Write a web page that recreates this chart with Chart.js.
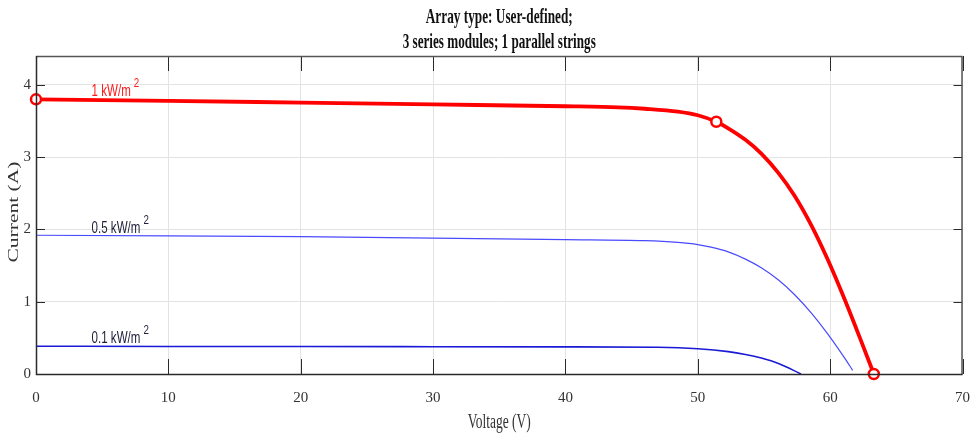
<!DOCTYPE html>
<html>
<head>
<meta charset="utf-8">
<script src="https://cdn.jsdelivr.net/npm/chart.js@4.4.1/dist/chart.umd.min.js"></script>
<style>
  html, body { margin: 0; padding: 0; background: #fff; }
  canvas { display: block; }
</style>
</head>
<body>
<canvas id="ivChart" width="970" height="435"></canvas>
<script>
// ---- data ----
const voltage1 = [0, 10, 20, 30, 40, 44, 46, 48.5, 50, 51.4, 52.3, 53.6, 54.8, 56.1, 57.3, 58.6, 59.8, 61.1, 62.3, 63.3];
const current1 = [3.80, 3.78, 3.755, 3.73, 3.705, 3.69, 3.67, 3.63, 3.58, 3.49, 3.40, 3.24, 3.05, 2.78, 2.47, 2.05, 1.59, 1.03, 0.475, 0.0];

const voltage05 = [0, 10, 20, 30, 40, 46, 48.5, 50, 51, 52.3, 53.6, 54.8, 56.1, 57.3, 58.6, 59.8, 61.1, 61.7];
const current05 = [1.92, 1.91, 1.90, 1.88, 1.86, 1.845, 1.82, 1.79, 1.755, 1.69, 1.59, 1.47, 1.30, 1.10, 0.84, 0.56, 0.22, 0.05];

const voltage01 = [0, 10, 20, 30, 40, 47, 50, 52.3, 53.6, 54.8, 56.1, 57.8];
const current01 = [0.385, 0.38, 0.38, 0.378, 0.375, 0.37, 0.35, 0.31, 0.27, 0.22, 0.145, 0.0];

// Isc, MPP, Voc markers on the 1 kW/m2 curve
const markerV = [0, 51.4, 63.3];
const markerI = [3.80, 3.49, 0];

const titleLines = ['Array type: User-defined;', '3 series modules; 1 parallel strings'];
const xTitle = 'Voltage (V)';
const yTitle = 'Current (A)';

// curve labels: text, superscript, anchor in data units (V, A)
const curveLabels = [
  { text: '1 kW/m', sup: '2', v: 4.2, i: 3.84, color: '#ff1a1a' },
  { text: '0.5 kW/m', sup: '2', v: 4.2, i: 1.95, color: '#1e1e3a' },
  { text: '0.1 kW/m', sup: '2', v: 4.2, i: 0.43, color: '#1e1e3a' }
];

const toPoints = (xs, ys) => xs.map((x, k) => ({ x: x, y: ys[k] }));

// draws text squeezed/stretched to a target width
function drawFitted(ctx, text, x, y, font, width, align) {
  ctx.save();
  ctx.font = font;
  const w = ctx.measureText(text).width;
  ctx.translate(x, y);
  ctx.scale(width / w, 1);
  ctx.textAlign = align || 'center';
  ctx.fillText(text, 0, 0);
  ctx.restore();
}

const frame = {
  id: 'frame',
  afterDraw(chart) {
    const { ctx, chartArea: a, scales: { x, y } } = chart;
    ctx.save();
    // inward ticks, matlab style
    ctx.strokeStyle = '#2a2a2a';
    ctx.lineWidth = 1;
    ctx.beginPath();
    x.ticks.forEach(t => {
      const px = Math.round(x.getPixelForValue(t.value)) + 0.5;
      ctx.moveTo(px, a.bottom); ctx.lineTo(px, a.bottom - 15);
      ctx.moveTo(px, a.top); ctx.lineTo(px, a.top + 15);
    });
    y.ticks.forEach(t => {
      const py = Math.round(y.getPixelForValue(t.value)) + 0.5;
      ctx.moveTo(a.left, py); ctx.lineTo(a.left + 9, py);
      ctx.moveTo(a.right, py); ctx.lineTo(a.right - 9, py);
    });
    ctx.stroke();

    // box
    ctx.lineWidth = 1.5;
    ctx.strokeStyle = '#555';
    ctx.beginPath();
    ctx.moveTo(a.left, a.top + 0.5); ctx.lineTo(a.right, a.top + 0.5);
    ctx.moveTo(a.right - 0.5, a.top); ctx.lineTo(a.right - 0.5, a.bottom);
    ctx.stroke();
    ctx.strokeStyle = '#2a2a2a';
    ctx.beginPath();
    ctx.moveTo(a.left + 0.5, a.top); ctx.lineTo(a.left + 0.5, a.bottom + 0.5);
    ctx.lineTo(a.right, a.bottom + 0.5);
    ctx.stroke();

    // title
    ctx.fillStyle = '#111';
    const cx = (a.left + a.right) / 2;
    drawFitted(ctx, titleLines[0], cx, 23, 'bold 21px "Liberation Serif"', 147);
    drawFitted(ctx, titleLines[1], cx, 48, 'bold 21px "Liberation Serif"', 193);

    // axis titles
    ctx.fillStyle = '#333';
    drawFitted(ctx, xTitle, cx, 428, '20px "Liberation Serif"', 63);
    ctx.save();
    ctx.translate(18, 212);
    ctx.rotate(-Math.PI / 2);
    drawFitted(ctx, yTitle, 0, 0, '14px "Liberation Serif"', 101);
    ctx.restore();

    // curve labels
    curveLabels.forEach(l => {
      const px = x.getPixelForValue(l.v);
      const py = y.getPixelForValue(l.i);
      ctx.fillStyle = l.color;
      ctx.font = '17px "Liberation Sans"';
      const w = ctx.measureText(l.text).width * 0.68;
      drawFitted(ctx, l.text, px, py, '17px "Liberation Sans"', w, 'left');
      ctx.font = '13px "Liberation Sans"';
      const ws = ctx.measureText(l.sup).width * 0.75;
      drawFitted(ctx, l.sup, px + w + 3, py - 9, '13px "Liberation Sans"', ws, 'left');
    });
    ctx.restore();
  }
};

const ctx = document.getElementById('ivChart').getContext('2d');
const ivChart = new Chart(ctx, {
  type: 'line',
  data: {
    datasets: [
      {
        label: 'markers',
        data: toPoints(markerV, markerI),
        showLine: false,
        borderColor: '#ff0000',
        backgroundColor: '#ffffff',
        pointRadius: 5,
        pointBorderWidth: 2.5,
        pointBackgroundColor: '#ffffff',
        clip: false
      },
      {
        label: '1 kW/m2',
        data: toPoints(voltage1, current1),
        borderColor: '#ff0000',
        borderWidth: 3.8,
        pointRadius: 0,
        cubicInterpolationMode: 'monotone'
      },
      {
        label: '0.5 kW/m2',
        data: toPoints(voltage05, current05),
        borderColor: '#4a4aff',
        borderWidth: 1.2,
        pointRadius: 0,
        cubicInterpolationMode: 'monotone'
      },
      {
        label: '0.1 kW/m2',
        data: toPoints(voltage01, current01),
        borderColor: '#1a1ad6',
        borderWidth: 1.6,
        pointRadius: 0,
        cubicInterpolationMode: 'monotone'
      }
    ]
  },
  options: {
    responsive: false,
    animation: false,
    devicePixelRatio: 1,
    layout: { padding: { top: 56, right: 1, left: 0, bottom: 0 } },
    scales: {
      x: {
        type: 'linear',
        min: 0,
        max: 70,
        ticks: {
          stepSize: 10,
          padding: 15,
          color: '#333',
          font: { family: 'Liberation Serif', size: 15 }
        },
        grid: { color: '#e3e3e3', drawTicks: false },
        border: { display: false },
        afterFit(scale) {
          scale.height = 61;
          scale.paddingLeft = 0;
          scale.paddingRight = 0;
        }
      },
      y: {
        min: 0,
        max: 4.4,
        afterBuildTicks(scale) {
          scale.ticks = scale.ticks.filter(t => Number.isInteger(t.value));
        },
        ticks: {
          stepSize: 1,
          padding: 5,
          color: '#333',
          font: { family: 'Liberation Serif', size: 15 }
        },
        grid: { color: '#e3e3e3', drawTicks: false },
        border: { display: false },
        afterFit(scale) {
          scale.width = 36;
          scale.paddingTop = 0;
          scale.paddingBottom = 0;
        }
      }
    },
    plugins: {
      legend: { display: false },
      tooltip: { enabled: false }
    }
  },
  plugins: [frame]
});
</script>
</body>
</html>
